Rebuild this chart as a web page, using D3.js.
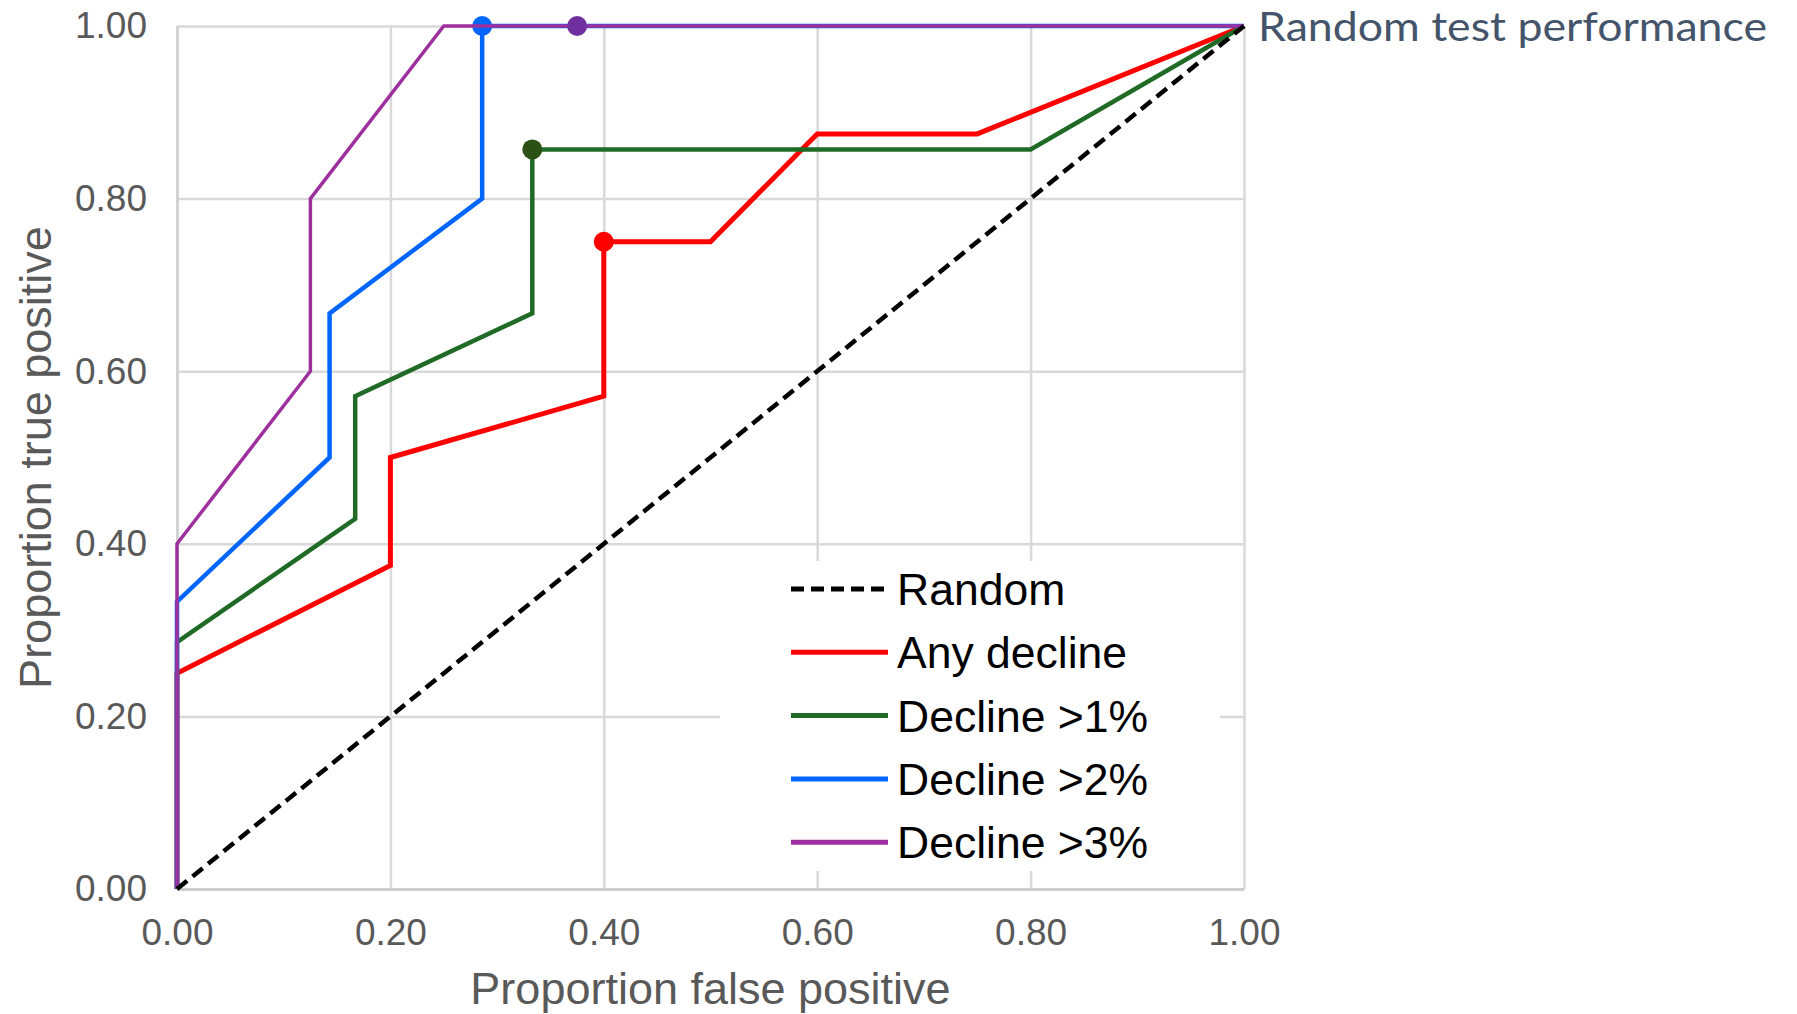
<!DOCTYPE html>
<html>
<head>
<meta charset="utf-8">
<script src="https://cdn.jsdelivr.net/npm/d3@7"></script>
<style>
  body { margin: 0; background: #fff; }
  .tick text { font-family: "Liberation Sans", Arial, sans-serif; fill: #595959; }
  .axis-title { font-family: "Liberation Sans", Arial, sans-serif; fill: #595959; }
  .legend-label { font-family: "Liberation Sans", Arial, sans-serif; fill: #000; }
</style>
</head>
<body>
<div id="chart"></div>
<script>
// tick values shared by both axes
var ticks = [0, 0.2, 0.4, 0.6, 0.8, 1.0];

// ROC series
var seriesNames = ["Any decline", "Decline >1%", "Decline >2%", "Decline >3%"];
var seriesColors = ["#ff0000", "#1f6b25", "#0066ff", "#9e309e"];
var markerColors = ["#ff0000", "#2b5117", "#0066ff", "#7030a0"];

var fprAny = [0, 0, 0.2, 0.2, 0.4, 0.4, 0.5, 0.6, 0.75, 1];
var tprAny = [0, 0.25, 0.375, 0.5, 0.571, 0.75, 0.75, 0.875, 0.875, 1];

var fpr1 = [0, 0, 0.167, 0.167, 0.333, 0.333, 0.8, 1];
var tpr1 = [0, 0.286, 0.429, 0.571, 0.667, 0.857, 0.857, 1];

var fpr2 = [0, 0, 0.143, 0.143, 0.286, 0.286, 1];
var tpr2 = [0, 0.333, 0.5, 0.667, 0.8, 1, 1];

var fpr3 = [0, 0, 0.125, 0.125, 0.25, 1];
var tpr3 = [0, 0.4, 0.6, 0.8, 1, 1];

// best cut-off point of each series
var bestFpr = [0.4, 0.333, 0.286, 0.375];
var bestTpr = [0.75, 0.857, 1, 1];

var randomFpr = [0, 1];
var randomTpr = [0, 1];

var width = 1797,
height = 1014,
margin = {top: 26, left: 177, right: 553, bottom: 125},
plotW = width - margin.left - margin.right,
plotH = height - margin.top - margin.bottom;

var x = d3.scaleLinear().domain([0, 1]).range([0, plotW]);
var y = d3.scaleLinear().domain([0, 1]).range([plotH, 0]);
var fmt = d3.format(".2f");

var svg = d3.select("#chart").append("svg")
.attr("width", width)
.attr("height", height);

var g = svg.append("g")
.attr("transform", "translate(" + margin.left + "," + margin.top + ")");

// gridlines
g.append("g")
.attr("class", "grid")
.attr("transform", "translate(0," + plotH + ")")
.call(d3.axisBottom(x).tickValues(ticks).tickSize(-plotH).tickFormat(""))
.call(function(s){
  s.select(".domain").remove();
  s.selectAll("line").attr("stroke", "#d9d9d9").attr("stroke-width", 2.5);
});

g.append("g")
.attr("class", "grid")
.call(d3.axisLeft(y).tickValues(ticks).tickSize(-plotW).tickFormat(""))
.call(function(s){
  s.select(".domain").remove();
  s.selectAll("line").attr("stroke", "#d9d9d9").attr("stroke-width", 2.5);
});

// axes with labels only
var xAxis = g.append("g")
.attr("transform", "translate(0," + plotH + ")")
.call(d3.axisBottom(x).tickValues(ticks).tickSize(0).tickPadding(30).tickFormat(fmt));
xAxis.select(".domain").attr("stroke", "#c8c8c8").attr("stroke-width", 2.5);
xAxis.selectAll("text").style("font-size", "37px");

var yAxis = g.append("g")
.call(d3.axisLeft(y).tickValues(ticks).tickSize(0).tickPadding(30).tickFormat(fmt));
yAxis.select(".domain").attr("stroke", "#d0d0d0").attr("stroke-width", 2.5);
yAxis.selectAll("text").style("font-size", "37px");

// axis titles
g.append("text")
.attr("class", "axis-title")
.attr("x", plotW / 2)
.attr("y", plotH + 115)
.attr("text-anchor", "middle")
.style("font-size", "45px")
.text("Proportion false positive");

g.append("text")
.attr("class", "axis-title")
.attr("transform", "translate(" + (-126) + "," + (plotH / 2) + ") rotate(-90)")
.attr("text-anchor", "middle")
.style("font-size", "45px")
.text("Proportion true positive");

// series lines and markers
var fprs = [fprAny, fpr1, fpr2, fpr3];
var tprs = [tprAny, tpr1, tpr2, tpr3];

var line = d3.line()
.x(function(d){ return x(d[0]); })
.y(function(d){ return y(d[1]); });

var linesG = g.append("g").attr("class", "series");

seriesNames.forEach(function(name, i){
  var pts = fprs[i].map(function(v, j){ return [v, tprs[i][j]]; });
  linesG.append("path")
  .datum(pts)
  .attr("d", line)
  .attr("fill", "none")
  .attr("stroke", seriesColors[i])
  .attr("stroke-width", i == 0 ? 5 : (i == 3 ? 3.5 : 4.5))
  .attr("stroke-linejoin", "miter");

  linesG.append("circle")
  .attr("cx", x(bestFpr[i]))
  .attr("cy", y(bestTpr[i]))
  .attr("r", 10)
  .attr("fill", markerColors[i]);
});

// random diagonal
linesG.append("path")
.datum(randomFpr.map(function(v, j){ return [v, randomTpr[j]]; }))
.attr("d", line)
.attr("fill", "none")
.attr("stroke", "#000")
.attr("stroke-width", 4.5)
.attr("stroke-dasharray", "13,7");

// legend box
var legendNames = ["Random"].concat(seriesNames),
legendColors = ["#000"].concat(seriesColors);

var legend = svg.append("g").attr("class", "legend");
legend.append("rect")
.attr("x", 720).attr("y", 561)
.attr("width", 500).attr("height", 310)
.attr("fill", "#fff");

var item = legend.selectAll(".item")
.data(legendNames)
.enter()
.append("g")
.attr("class", "item")
.attr("transform", function(d, i){ return "translate(791," + (589 + i * 63.3) + ")"; });

item.append("line")
.attr("x1", 0).attr("x2", 97)
.attr("stroke", function(d, i){ return legendColors[i]; })
.attr("stroke-width", 5)
.attr("stroke-dasharray", function(d, i){ return i == 0 ? "13,7" : null; });

item.append("text")
.attr("class", "legend-label")
.attr("x", 106)
.attr("dy", "0.36em")
.style("font-size", "44.5px")
.text(function(d){ return d; });

// annotation at top right corner
svg.append("text")
.attr("x", 1258)
.attr("y", 41)
.attr("textLength", 509)
.attr("lengthAdjust", "spacingAndGlyphs")
.style("font-family", "Lato, 'Open Sans', sans-serif")
.style("font-size", "40px")
.style("fill", "#44546a")
.text("Random test performance");
</script>
</body>
</html>
